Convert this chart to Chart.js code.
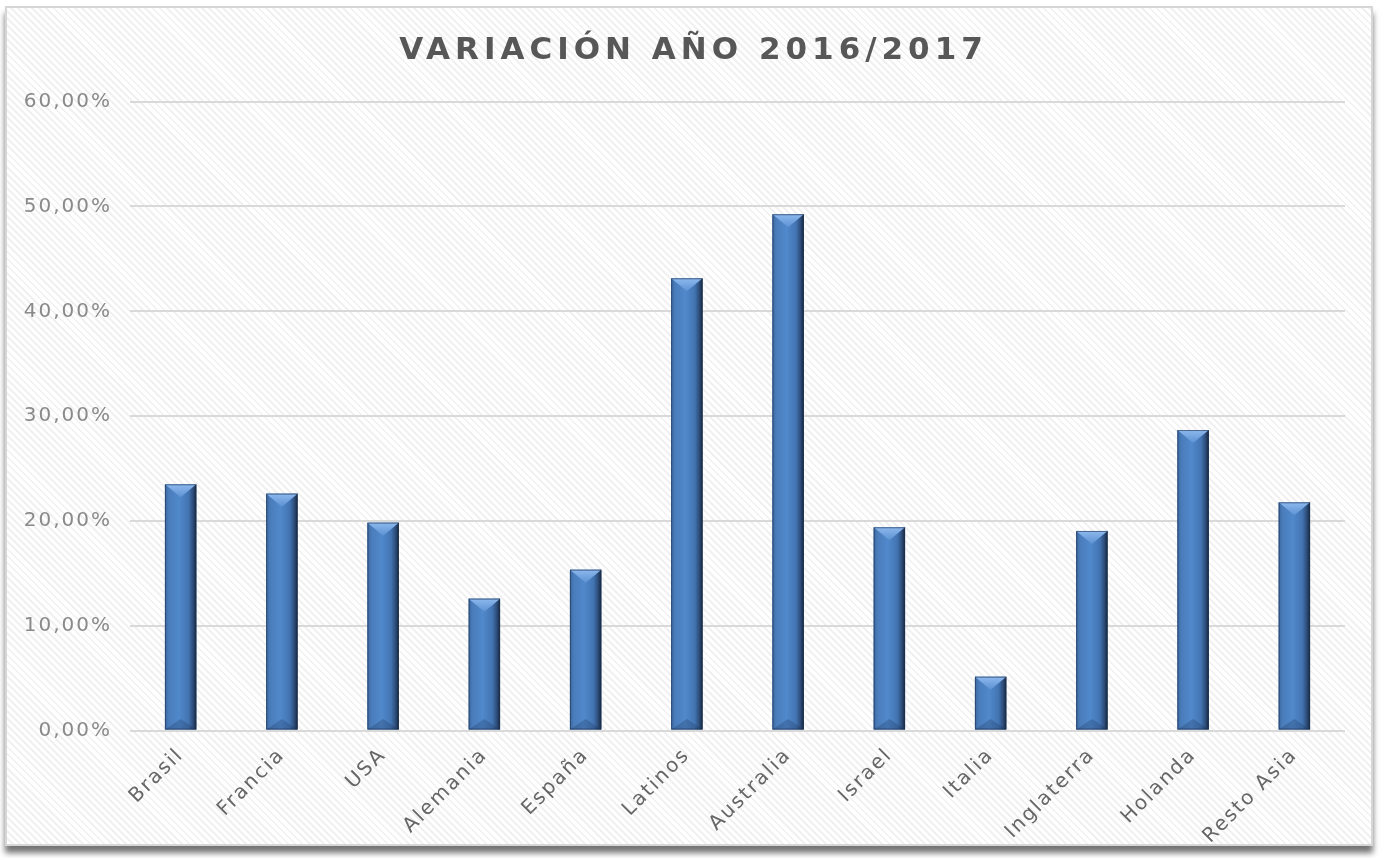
<!DOCTYPE html>
<html>
<head>
<meta charset="utf-8">
<script src="https://cdn.jsdelivr.net/npm/chart.js@4/dist/chart.umd.min.js"></script>
<style>
  html, body { margin: 0; padding: 0; background: #ffffff; width: 1382px; height: 858px; overflow: hidden; }
  #frame {
    position: absolute; left: 5px; top: 6px; width: 1364px; height: 836px;
    border: 2px solid #d6d6d6;
    background: repeating-linear-gradient(45deg, #ffffff 0px, #ffffff 3px, #f1f1f1 3px, #f1f1f1 5px);
    box-shadow: 0 7px 6px rgba(0,0,0,0.55);
  }
  #wrap { position: absolute; left: 0; top: 0; width: 1382px; height: 858px; }
</style>
</head>
<body>
<div id="frame"></div>
<div id="wrap"><canvas id="c"></canvas></div>
<script>
const titleText = 'VARIACIÓN AÑO 2016/2017';
const categories = ['Brasil', 'Francia', 'USA', 'Alemania', 'España', 'Latinos', 'Australia', 'Israel', 'Italia', 'Inglaterra', 'Holanda', 'Resto Asia'];
const variation = [23.49, 22.60, 19.83, 12.58, 15.34, 43.15, 49.26, 19.39, 5.13, 19.04, 28.67, 21.77];
const yTickValues = [0, 10, 20, 30, 40, 50, 60];
const yTickLabels = ['0,00%', '10,00%', '20,00%', '30,00%', '40,00%', '50,00%', '60,00%'];

const spacingPlugin = {
  id: 'spacing',
  beforeDraw(chart) {
    const tb = chart.titleBlock;
    if (tb && !tb._patched) {
      const orig = tb.draw;
      tb.draw = function (...args) {
        const c = this.ctx;
        c.save();
        c.letterSpacing = '5px';
        c.translate(21, 0);
        orig.apply(this, args);
        c.restore();
      };
      tb._patched = true;
    }
    chart.ctx.letterSpacing = '2px';
  },
  afterDraw(chart) { chart.ctx.letterSpacing = '0px'; }
};

const bevelPlugin = {
  id: 'bevel',
  afterDatasetsDraw(chart) {
    const ctx = chart.ctx;
    const meta = chart.getDatasetMeta(0);
    meta.data.forEach(el => {
      const p = el.getProps(['x', 'y', 'base', 'width'], true);
      const l = p.x - p.width / 2, r = p.x + p.width / 2;
      const top = Math.min(p.y, p.base), bot = Math.max(p.y, p.base);
      ctx.save();
      const g = ctx.createLinearGradient(l, 0, r, 0);
      g.addColorStop(0, '#3b679f');
      g.addColorStop(0.12, '#4a7cba');
      g.addColorStop(0.45, '#5089cc');
      g.addColorStop(0.75, '#4374b2');
      g.addColorStop(0.9, '#2c4c78');
      g.addColorStop(1, '#16243a');
      ctx.fillStyle = g;
      ctx.fillRect(l, top, r - l, bot - top);
      const d = Math.min(13, (bot - top) / 2);
      const gt = ctx.createLinearGradient(0, top, 0, top + d);
      gt.addColorStop(0, '#8db8ee');
      gt.addColorStop(1, '#5d92d2');
      ctx.fillStyle = gt;
      ctx.beginPath();
      ctx.moveTo(l, top); ctx.lineTo(r, top); ctx.lineTo(p.x, top + d); ctx.closePath();
      ctx.fill();
      ctx.fillStyle = 'rgba(25,45,80,0.25)';
      ctx.beginPath();
      ctx.moveTo(l, bot); ctx.lineTo(r, bot); ctx.lineTo(p.x, bot - d * 0.8); ctx.closePath();
      ctx.fill();
      ctx.strokeStyle = 'rgba(30,50,80,0.6)';
      ctx.lineWidth = 1;
      ctx.strokeRect(l + 0.5, top + 0.5, r - l - 1, bot - top - 1);
      ctx.restore();
    });
  }
};

new Chart(document.getElementById('c'), {
  type: 'bar',
  data: {
    labels: categories,
    datasets: [{
      data: variation,
      backgroundColor: '#4f81bd',
      borderWidth: 0,
      barPercentage: 0.31,
      categoryPercentage: 1
    }]
  },
  plugins: [spacingPlugin, bevelPlugin],
  options: {
    responsive: true,
    maintainAspectRatio: false,
    animation: false,
    layout: { padding: { left: 0, right: 37, top: 0, bottom: 0 } },
    plugins: {
      legend: { display: false },
      tooltip: { enabled: false },
      title: {
        display: true,
        text: titleText,
        color: '#575757',
        font: { family: '"DejaVu Sans"', size: 31, weight: 'bold' },
        padding: { top: 32, bottom: 32.5 }
      }
    },
    scales: {
      x: {
        grid: { display: false, drawTicks: false },
        border: { display: false },
        ticks: {
          color: '#666666',
          font: { family: '"DejaVu Sans"', size: 20 },
          minRotation: 45,
          maxRotation: 45,
          padding: 13,
          autoSkip: false
        },
        afterFit(scale) { scale.height = 127.5; }
      },
      y: {
        min: 0,
        max: 60,
        border: { display: false },
        grid: { color: '#d9d9d9', lineWidth: 2, drawTicks: false },
        afterBuildTicks(scale) { scale.ticks = yTickValues.map(v => ({ value: v })); },
        ticks: {
          color: '#8a8a8a',
          font: { family: '"DejaVu Sans"', size: 20 },
          padding: 18,
          callback(value, index) { return yTickLabels[index]; }
        },
        afterFit(scale) { scale.width = 130; }
      }
    }
  }
});
</script>
</body>
</html>
